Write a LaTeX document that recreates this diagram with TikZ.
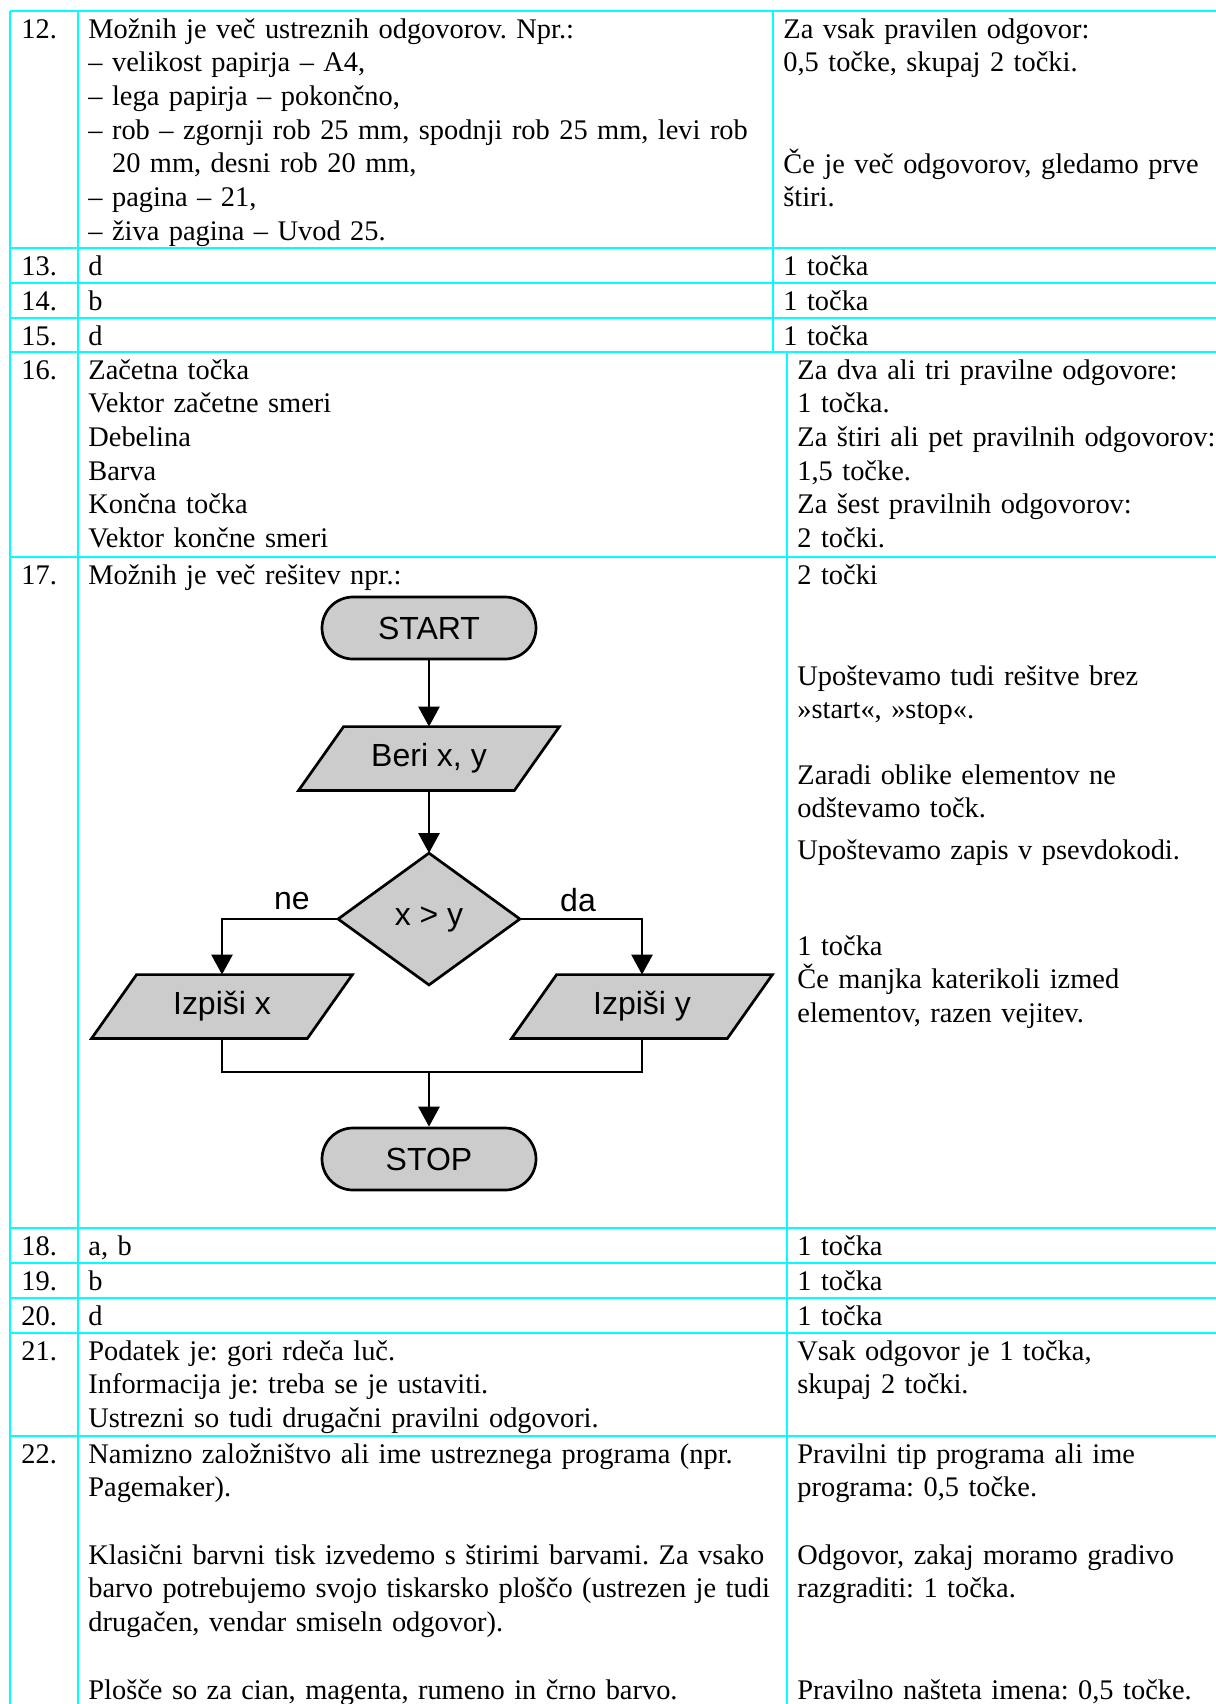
\documentclass[tikz,border=0pt]{standalone}
\usepackage{fontspec}
\setmainfont{Liberation Serif}
\newfontfamily\flowfont{Liberation Sans}
\usetikzlibrary{arrows.meta,backgrounds}
\definecolor{gridcyan}{RGB}{0,255,255}
\definecolor{boxgray}{RGB}{204,204,204}
\frenchspacing
\begin{document}
\begin{tikzpicture}[x=0.5pt,y=-0.5pt,
  tabline/.style={draw=gridcyan,line width=1.4pt},
  txt/.style={anchor=base west,inner sep=0pt,text width=420pt,align=left,
     font=\frenchspacing\fontsize{14.2pt}{16.85pt}\selectfont},
  num/.style={anchor=base west,inner sep=0pt,font=\fontsize{14.2pt}{16.85pt}\selectfont},
  fc/.style={inner sep=0pt,font=\flowfont\fontsize{16pt}{18pt}\selectfont},
  shapeline/.style={draw=black,line width=1.35pt,fill=boxgray},
  termbox/.style={fc,shapeline,rounded corners=15.5pt,minimum width=107pt,minimum height=31pt},
  iobox/.style={fc,minimum width=107.5pt,minimum height=31.5pt},
  arr/.style={draw=black,line width=1.3pt,-{Triangle[length=10pt,width=10.5pt]}},
  conn/.style={draw=black,line width=1.3pt},
]
\useasboundingbox (0,0) rectangle (1216,1704);

% ---------- table lines ----------
\draw[tabline] (10,11) -- (1216,11);
\foreach \yy in {248,283,318,352,557,1228,1263,1298,1333,1436}
  \draw[tabline] (10,\yy) -- (1216,\yy);
\draw[tabline] (10,11) -- (10,1704);
\draw[tabline] (78,11) -- (78,1704);
\draw[tabline] (773,11) -- (773,352);
\draw[tabline] (787,352) -- (787,1704);

% ---------- numbers ----------
\node[num] (n12) at (21,38) {12.};
\node[num] (n13) at (21,275) {13.};
\node[num] (n14) at (21,310) {14.};
\node[num] (n15) at (21,345) {15.};
\node[num] (n16) at (21,379) {16.};
\node[num] (n17) at (21,584) {17.};
\node[num] (n18) at (21,1255) {18.};
\node[num] (n19) at (21,1290) {19.};
\node[num] (n20) at (21,1325) {20.};
\node[num] (n21) at (21,1360) {21.};
\node[num] (n22) at (21,1463) {22.};

% ---------- answers ----------
\node[txt] (a12) at (88,38) {Možnih je več ustreznih odgovorov. Npr.:\\
– velikost papirja – A4,\\
– lega papirja – pokončno,\\
– rob – zgornji rob 25 mm, spodnji rob 25 mm, levi rob\\
\phantom{– }20 mm, desni rob 20 mm,\\
– pagina – 21,\\
– živa pagina – Uvod 25.};
\node[txt] (a13) at (88,275) {d};
\node[txt] (a14) at (88,310) {b};
\node[txt] (a15) at (88,345) {d};
\node[txt] (a16) at (88,379) {Začetna točka\\
Vektor začetne smeri\\
Debelina\\
Barva\\
Končna točka\\
Vektor končne smeri};
\node[txt] (a17) at (88,584) {Možnih je več rešitev npr.:};
\node[txt] (a18) at (88,1255) {a, b};
\node[txt] (a19) at (88,1290) {b};
\node[txt] (a20) at (88,1325) {d};
\node[txt] (a21) at (88,1360) {Podatek je: gori rdeča luč.\\
Informacija je: treba se je ustaviti.\\
Ustrezni so tudi drugačni pravilni odgovori.};
\node[txt] (a22a) at (88,1463) {Namizno založništvo ali ime ustreznega programa (npr.\\
Pagemaker).};
\node[txt] (a22b) at (88,1564) {Klasični barvni tisk izvedemo s štirimi barvami. Za vsako\\
barvo potrebujemo svojo tiskarsko ploščo (ustrezen je tudi\\
drugačen, vendar smiseln odgovor).};
\node[txt] (a22c) at (88,1699) {Plošče so za cian, magenta, rumeno in črno barvo.};

% ---------- points ----------
\node[txt] (p12a) at (783,38) {Za vsak pravilen odgovor:\\
0,5 točke, skupaj 2 točki.};
\node[txt] (p12b) at (783,173) {Če je več odgovorov, gledamo prve\\
štiri.};
\node[txt] (p13) at (783,275) {1 točka};
\node[txt] (p14) at (783,310) {1 točka};
\node[txt] (p15) at (783,345) {1 točka};
\node[txt] (p16) at (797,379) {Za dva ali tri pravilne odgovore:\\
1 točka.\\
Za štiri ali pet pravilnih odgovorov:\\
1,5 točke.\\
Za šest pravilnih odgovorov:\\
2 točki.};
\node[txt] (p17a) at (797,584) {2 točki};
\node[txt] (p17b) at (797,685) {Upoštevamo tudi rešitve brez\\
»start«, »stop«.};
\node[txt] (p17c) at (797,784) {Zaradi oblike elementov ne\\
odštevamo točk.};
\node[txt] (p17d) at (797,859) {Upoštevamo zapis v psevdokodi.};
\node[txt] (p17e) at (797,955) {1 točka\\
Če manjka katerikoli izmed\\
elementov, razen vejitev.};
\node[txt] (p18) at (797,1255) {1 točka};
\node[txt] (p19) at (797,1290) {1 točka};
\node[txt] (p20) at (797,1325) {1 točka};
\node[txt] (p21) at (797,1360) {Vsak odgovor je 1 točka,\\
skupaj 2 točki.};
\node[txt] (p22a) at (797,1463) {Pravilni tip programa ali ime\\
programa: 0,5 točke.};
\node[txt] (p22b) at (797,1564) {Odgovor, zakaj moramo gradivo\\
razgraditi: 1 točka.};
\node[txt] (p22c) at (797,1699) {Pravilno našteta imena: 0,5 točke.};

% ---------- flowchart ----------
\node[termbox] (start) at (429,628) {START};
\node[iobox] (beri) at (429,758.5) {Beri x, y};
\node[fc,minimum width=90.5pt,minimum height=65.5pt] (cond) at (429,919) {x > y};
\node[iobox] (izx) at (222,1006.5) {Izpiši x};
\node[iobox] (izy) at (642,1006.5) {Izpiši y};
\node[termbox] (stop) at (429,1159) {STOP};
\node[fc,anchor=base] (lne) at (292,909) {ne};
\node[fc,anchor=base] (lda) at (578,911) {da};

\begin{scope}[on background layer]
  \foreach \n in {beri,izx,izy}
    \path[shapeline] ([xshift=11.25pt]\n.north west) -- ([xshift=11.25pt]\n.north east)
      -- ([xshift=-11.25pt]\n.south east) -- ([xshift=-11.25pt]\n.south west) -- cycle;
  \path[shapeline] (cond.north) -- (cond.east) -- (cond.south) -- (cond.west) -- cycle;
\end{scope}

\draw[arr] (start.south) -- (beri.north);
\draw[arr] (beri.south) -- (cond.north);
\draw[arr] (cond.west) -| (izx.north);
\draw[arr] (cond.east) -| (izy.north);
\coordinate (mrg) at (429,1072);
\draw[conn] (izx.south) |- (mrg);
\draw[conn] (izy.south) |- (mrg);
\draw[arr] (mrg) -- (stop.north);
\end{tikzpicture}
\end{document}
